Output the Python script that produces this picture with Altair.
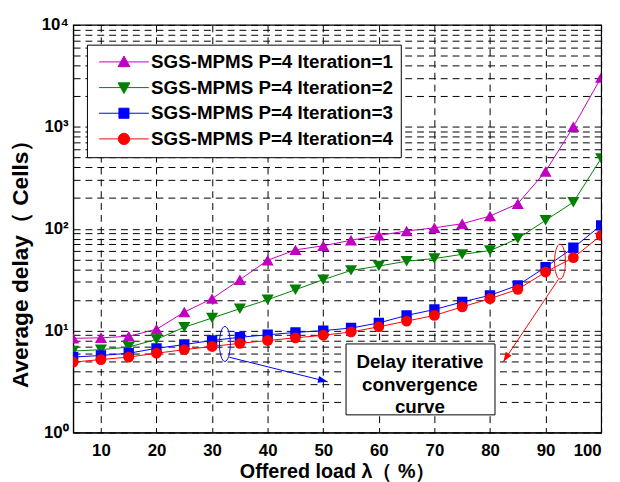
import altair as alt
import pandas as pd

# ---------------- data ----------------
loads = [5, 10, 15, 20, 25, 30, 35, 40, 45, 50, 55, 60, 65, 70, 75, 80, 85, 90, 95, 100]
iter1 = [8.4, 8.5, 8.8, 10.3, 15.2, 20.6, 31.6, 49, 62, 68, 77, 86, 95, 102, 112, 133, 176, 365, 1000, 3050]
iter2 = [6.3, 6.5, 6.9, 8.2, 10.8, 13.3, 16.4, 20.1, 25.2, 31.6, 39, 43, 48, 51, 56, 61, 80, 121, 182, 490]
iter3 = [5.5, 5.7, 6.0, 6.7, 7.3, 8.0, 8.6, 9.1, 9.6, 10.0, 10.6, 11.9, 14.1, 16.1, 19.1, 22.2, 27.8, 42, 65, 108]
iter4 = [4.9, 5.2, 5.5, 6.0, 6.5, 7.0, 7.5, 8.0, 8.5, 9.0, 9.7, 10.9, 12.4, 14.1, 17.1, 20.6, 25.4, 37.6, 52, 86]

series_names = ["SGS-MPMS P=4 Iteration=1", "SGS-MPMS P=4 Iteration=2",
                "SGS-MPMS P=4 Iteration=3", "SGS-MPMS P=4 Iteration=4"]
series_values = [iter1, iter2, iter3, iter4]
colors = ["#C000C0", "#008000", "#0000FF", "#FF0000"]
shapes = ["triangle-up", "triangle-down", "square", "circle"]
legend_shapes = [
    "M-4.2,0H4.2M0,-1L1,0.8L-1,0.8Z",
    "M-4.2,0H4.2M0,1L1,-0.8L-1,-0.8Z",
    "M-4.2,0H4.2M-0.85,-0.85H0.85V0.85H-0.85Z",
    "M-4.2,0H4.2M0.95,0A0.95,0.95,0,1,1,-0.95,0A0.95,0.95,0,1,1,0.95,0Z",
]
marker_sizes = [150, 150, 110, 120]

x_ticks = [10, 20, 30, 40, 50, 60, 70, 80, 90, 100]
y_ticks = [m * 10 ** k for k in range(4) for m in range(1, 10)] + [10000]

# annotation (text box, ellipses, arrows)
box_text = ["Delay iterative", "convergence", "curve"]
box_text_y = [4.9, 2.9, 1.76]
box_text_x = 67.4
box_rect = {"x": 54.1, "x2": 80.9, "y": 1.49, "y2": 7.4}
ell_x = [32.3, 92.6]
ell_y = [7.4, 47.5]
ell_color = ["#0000FF", "#FF0000"]
arrow_x = [33.1, 92.3]
arrow_y = [5.48, 31.8]
arrow_x2 = [50.8, 82.4]
arrow_y2 = [3.15, 4.95]
arrow_angle = [104.2, 213.3]

FONT = "Liberation Sans"

rows = []
for name, vals, sz in zip(series_names, series_values, marker_sizes):
    for x, v in zip(loads, vals):
        rows.append({"load": x, "delay": v, "series": name, "msize": sz})
df = pd.DataFrame(rows)

xscale = alt.Scale(domain=[5, 100], nice=False, zero=False)
yscale = alt.Scale(type="log", domain=[1, 10000], nice=False)

x_enc = alt.X("load:Q", scale=xscale, axis=alt.Axis(
    values=x_ticks, title="Offered load λ（ %）", grid=True, gridDash=[7, 5],
    gridColor="black", gridOpacity=1, gridWidth=1, tickSize=0, labelPadding=10,
    labelFont=FONT, labelFontSize=17, labelFontWeight="bold", labelColor="black",
    titleFont=FONT, titleFontSize=20, titleFontWeight="bold", titleColor="black",
    titlePadding=4, domainColor="black", domainWidth=1.2))
y_enc = alt.Y("delay:Q", scale=yscale, axis=alt.Axis(
    values=y_ticks, title="Average delay（ Cells）", grid=True, gridDash=[7, 5],
    gridColor="black", gridOpacity=1, gridWidth=1, tickSize=0, labelPadding=5,
    labelOverlap=False, labelFlush=False,
    labelExpr="datum.value==1?'10⁰':datum.value==10?'10¹':datum.value==100?'10²':datum.value==1000?'10³':datum.value==10000?'10⁴':''",
    labelFont=FONT, labelFontSize=17, labelFontWeight="bold", labelColor="black",
    titleFont=FONT, titleFontSize=23, titleFontWeight="bold", titleColor="black",
    titleX=-41, titleY=236, titleBaseline="bottom", titleAlign="center",
    domainColor="black", domainWidth=1.2))

cscale = alt.Scale(domain=series_names, range=colors)

lines = alt.Chart(df).mark_line(strokeWidth=1, clip=True).encode(
    x=x_enc, y=y_enc,
    color=alt.Color("series:N", scale=cscale, legend=None),
)
points = alt.Chart(df).mark_point(filled=True, opacity=1, clip=True).encode(
    x=alt.X("load:Q", scale=xscale), y=alt.Y("delay:Q", scale=yscale),
    color=alt.Color("series:N", scale=cscale, legend=None),
    shape=alt.Shape("series:N", scale=alt.Scale(domain=series_names, range=shapes), legend=None),
    size=alt.Size("msize:Q", scale=None, legend=None),
)

leg = alt.Legend(orient="none", legendX=14, legendY=20, title=None,
                 labelFont=FONT, labelFontSize=19, labelFontWeight="bold", labelColor="black",
                 labelLimit=400, fillColor="white", strokeColor="black", padding=8,
                 rowPadding=6, symbolSize=144, symbolOffset=20, labelOffset=18,
                 symbolStrokeWidth=1, symbolOpacity=1, cornerRadius=0)
legend_layer = alt.Chart(df).transform_filter("false").mark_point(filled=True, opacity=1).encode(
    x=alt.X("load:Q", scale=xscale), y=alt.Y("delay:Q", scale=yscale),
    color=alt.Color("series:N", scale=alt.Scale(domain=series_names, range=colors), legend=leg),
    stroke=alt.Stroke("series:N", scale=alt.Scale(domain=series_names, range=colors), legend=leg),
    shape=alt.Shape("series:N", scale=alt.Scale(domain=series_names, range=legend_shapes), legend=leg),
)

# annotations
ann_box = alt.Chart(pd.DataFrame([box_rect])).mark_rect(
    fill="white", stroke="black", strokeWidth=1).encode(
    x=alt.X("x:Q", scale=xscale), x2="x2:Q",
    y=alt.Y("y:Q", scale=yscale), y2="y2:Q")
ann_text = alt.Chart(pd.DataFrame({"t": box_text, "y": box_text_y, "x": [box_text_x] * 3})).mark_text(
    font=FONT, fontSize=19, fontWeight="bold", color="black", baseline="middle").encode(
    x=alt.X("x:Q", scale=xscale), y=alt.Y("y:Q", scale=yscale), text="t:N")
ann_ell = alt.Chart(pd.DataFrame({"x": ell_x, "y": ell_y, "c": ell_color})).mark_point(
    shape="M0,-1A0.31,1,0,1,1,0,1A0.31,1,0,1,1,0,-1Z", size=1260, filled=False,
    strokeWidth=1, opacity=1).encode(
    x=alt.X("x:Q", scale=xscale), y=alt.Y("y:Q", scale=yscale),
    stroke=alt.Stroke("c:N", scale=None))
arr_df = pd.DataFrame({"x": arrow_x, "y": arrow_y, "x2": arrow_x2, "y2": arrow_y2,
                       "c": ell_color, "a": arrow_angle})
ann_arrow = alt.Chart(arr_df).mark_rule(strokeWidth=1).encode(
    x=alt.X("x:Q", scale=xscale), y=alt.Y("y:Q", scale=yscale),
    x2="x2:Q", y2="y2:Q", color=alt.Color("c:N", scale=None))
ann_head = alt.Chart(arr_df).mark_point(
    shape="M0,0L-0.5,1.4L0.5,1.4Z", size=196, filled=True, opacity=1).encode(
    x=alt.X("x2:Q", scale=xscale), y=alt.Y("y2:Q", scale=yscale),
    color=alt.Color("c:N", scale=None), angle=alt.Angle("a:Q", scale=None))

main = alt.layer(lines, points, ann_box, ann_text, ann_ell, ann_arrow, ann_head)
chart = alt.layer(main, legend_layer).resolve_scale(
    color="independent", shape="independent", stroke="independent"
).properties(
    width=535, height=413, autosize="none",
    padding={"left": 66, "top": 14, "right": 11, "bottom": 47},
    background="white",
).configure_view(stroke="black", strokeWidth=1.2)

chart.save("out.html", embed_options={"renderer": "svg", "actions": False})
